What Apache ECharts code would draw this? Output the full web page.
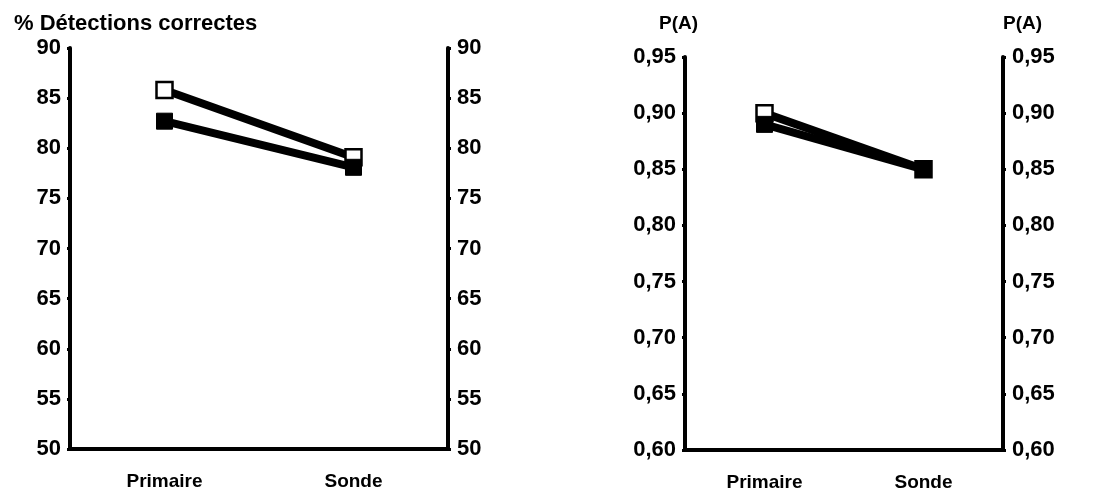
<!DOCTYPE html>
<html>
<head>
<meta charset="utf-8">
<script src="https://cdn.jsdelivr.net/npm/echarts@6/dist/echarts.min.js"></script>
<style>
html,body{margin:0;padding:0;background:#fff;}
#c{width:1108px;height:500px;}
</style>
</head>
<body>
<div id="c"></div>
<script>
// Data
var categories = ['Primaire', 'Sonde'];
var pctOpen = [85.8, 79.1];
var pctFilled = [82.7, 78.1];
var paOpen = [0.90, 0.85];
var paFilled = [0.89, 0.85];
var pctTicks = {min: 50, max: 90, interval: 5};
var paTicks = {min: 0.60, max: 0.95, interval: 0.05};
var leftTitle = '% Détections correctes';
var rightTitle = 'P(A)';

var FONT = '"Liberation Sans", Arial, sans-serif';
var chart = echarts.init(document.getElementById('c'), null, {renderer: 'canvas'});

function yAx(gridIndex, pos, ticks, fmt, fs) {
  return {
    type: 'value', gridIndex: gridIndex, position: pos,
    min: ticks.min, max: ticks.max, interval: ticks.interval,
    splitLine: {show: false},
    axisLine: {show: true, onZero: false, lineStyle: {color: '#000', width: 4}},
    axisTick: {show: true, length: 3, lineStyle: {color: '#000', width: 3}},
    axisLabel: {color: '#000', fontFamily: FONT, fontWeight: 'bold', fontSize: fs, margin: 9, formatter: fmt}
  };
}
function xAx(gridIndex) {
  return {
    type: 'category', gridIndex: gridIndex, data: categories, boundaryGap: true,
    axisLine: {show: true, lineStyle: {color: '#000', width: 4}},
    axisTick: {show: false},
    axisLabel: {color: '#000', fontFamily: FONT, fontWeight: 'bold', fontSize: 19, margin: 23}
  };
}
var paFmt = function (v) { return v.toFixed(2).replace('.', ','); };
var pctFmt = function (v) { return String(v); };

function lineSeries(xi, yi, data, open) {
  return {
    type: 'line', xAxisIndex: xi, yAxisIndex: yi, data: data,
    symbol: 'rect', symbolSize: 16,
    lineStyle: {color: '#000', width: 8},
    itemStyle: open ? {color: '#fff', borderColor: '#000', borderWidth: 2.5} : {color: '#000', borderColor: '#000', borderWidth: 1},
    emphasis: {disabled: true},
    animation: false, z: open ? 2 : 3
  };
}

chart.setOption({
  animation: false,
  backgroundColor: '#fff',
  title: [
    {text: leftTitle, left: 9, top: 8, textStyle: {fontFamily: FONT, fontWeight: 'bold', fontSize: 22, color: '#000'}},
    {text: rightTitle, left: 654, top: 9, textStyle: {fontFamily: FONT, fontWeight: 'bold', fontSize: 19, color: '#000'}},
    {text: rightTitle, left: 998, top: 9, textStyle: {fontFamily: FONT, fontWeight: 'bold', fontSize: 19, color: '#000'}}
  ],
  grid: [
    {left: 70, right: 660, top: 48, bottom: 51},
    {left: 685, right: 105, top: 57, bottom: 50}
  ],
  xAxis: [xAx(0), xAx(1)],
  yAxis: [
    yAx(0, 'left', pctTicks, pctFmt, 22),
    yAx(0, 'right', pctTicks, pctFmt, 22),
    yAx(1, 'left', paTicks, paFmt, 22),
    yAx(1, 'right', paTicks, paFmt, 22)
  ],
  series: [
    lineSeries(0, 0, pctOpen, true),
    lineSeries(0, 0, pctFilled, false),
    lineSeries(1, 2, paOpen, true),
    lineSeries(1, 2, paFilled, false)
  ]
});
</script>
</body>
</html>
